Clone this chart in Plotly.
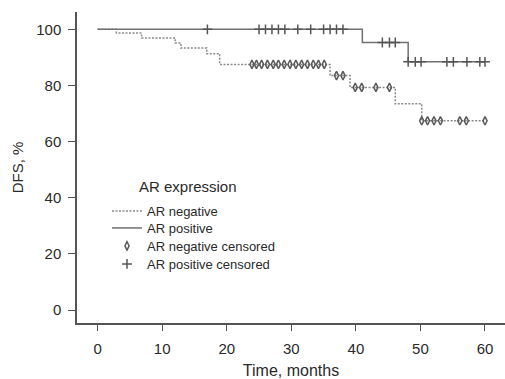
import plotly.graph_objects as go

# AR negative KM curve (step points)
neg_time = [0, 2.9, 6.8, 12.0, 12.9, 16.9, 18.9, 36.0, 39.1, 46.1, 50.2, 60.0]
neg_surv = [100, 98.7, 96.9, 95.1, 93.3, 91.3, 87.5, 83.5, 79.3, 73.5, 67.4, 67.4]
# AR positive KM curve
pos_time = [0, 41.0, 48.1, 60.0]
pos_surv = [100, 95.3, 88.4, 88.4]
# censored observations
neg_cens_time = [23.9, 24.6, 25.4, 26.3, 27.2, 28.0, 28.9, 29.8, 30.7, 31.6, 32.5, 33.4, 34.2, 35.1,
                 37.0, 38.0, 39.9, 40.9, 43.1, 45.2, 50.2, 51.1, 52.1, 53.1, 56.1, 57.1, 60.0]
neg_cens_surv = [87.5] * 14 + [83.5] * 2 + [79.3] * 4 + [67.4] * 7
pos_cens_time = [17.0, 25.0, 26.0, 27.0, 28.0, 29.0, 31.0, 33.0, 35.0, 36.0, 37.0, 38.0,
                 44.1, 45.2, 46.1, 48.1, 49.2, 50.1, 54.1, 55.1, 57.2, 59.2, 60.0]
pos_cens_surv = [100] * 12 + [95.3] * 3 + [88.4] * 8

x_ticks = [0, 10, 20, 30, 40, 50, 60]
y_ticks = [0, 20, 40, 60, 80, 100]

FONT = "Liberation Sans, Arial, sans-serif"
TXT = "#2a2a2a"
W, H, L, T, B = 505, 379, 77, 12, 56
PW, PH = W - L, H - T - B

fig = go.Figure()
fig.add_trace(go.Scatter(x=neg_time, y=neg_surv, mode="lines", line_shape="hv",
                         line=dict(color="#8a8a8a", width=1.5, dash="2px,1.5px"), name="AR negative",
                         legend="legend"))
fig.add_trace(go.Scatter(x=pos_time, y=pos_surv, mode="lines", line_shape="hv",
                         line=dict(color="#707070", width=1.5), name="AR positive",
                         legend="legend2"))
fig.add_trace(go.Scatter(x=neg_cens_time, y=neg_cens_surv, mode="markers",
                         marker=dict(symbol="diamond-tall-open", size=6, color="#5a5a5a",
                                     line=dict(width=1.5, color="#5a5a5a")),
                         name="AR negative censored", legend="legend3"))
fig.add_trace(go.Scatter(x=pos_cens_time, y=pos_cens_surv, mode="markers",
                         marker=dict(symbol="cross-thin-open", size=7, color="#555555",
                                     line=dict(width=1.5, color="#555555")),
                         name="AR positive censored", legend="legend4"))

fig.add_annotation(text="AR expression", xref="paper", yref="paper",
                   x=(137 - L) / PW, y=1 - (186 - T) / PH, xanchor="left", yanchor="middle",
                   showarrow=False, font=dict(family=FONT, size=15, color=TXT))


def leg(row_y):
    return dict(x=(107 - L) / PW, y=1 - (row_y - T) / PH, xanchor="left", yanchor="middle",
                font=dict(family=FONT, size=13, color=TXT), itemwidth=30,
                bgcolor="rgba(0,0,0,0)")


fig.update_layout(
    width=W, height=H,
    margin=dict(l=L, r=0, t=T, b=B),
    paper_bgcolor="white", plot_bgcolor="white",
    font=dict(family=FONT, color=TXT),
    showlegend=True,
    legend=leg(211), legend2=leg(228), legend3=leg(246), legend4=leg(264),
    xaxis=dict(range=[-3.2, 63.1], tickvals=x_ticks, showgrid=False, zeroline=False,
               showline=True, linecolor="#555555", linewidth=1.5, ticks="outside",
               ticklen=6, tickcolor="#555555", tickfont=dict(size=15, color=TXT),
               ticklabelstandoff=5,
               title=dict(text="Time, months", font=dict(size=16, color=TXT), standoff=9)),
    yaxis=dict(range=[-4.63, 106.16], tickvals=y_ticks, showgrid=False, zeroline=False,
               showline=True, linecolor="#555555", linewidth=1.5, ticks="outside",
               ticklen=7, tickcolor="#555555", tickfont=dict(size=15, color=TXT),
               ticklabelstandoff=4,
               title=dict(text="DFS, %", font=dict(size=15, color=TXT), standoff=9)),
)

fig.write_html("out.html", config={"displayModeBar": False},
               post_script="document.body.style.margin='0';")
